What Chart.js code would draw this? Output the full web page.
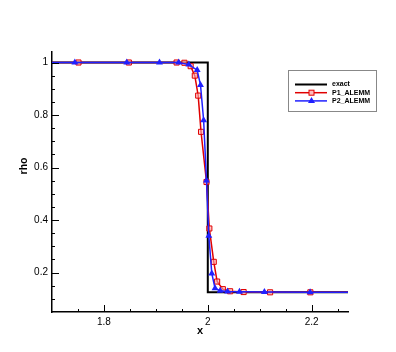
<!DOCTYPE html>
<html>
<head>
<meta charset="utf-8">
<script src="https://cdn.jsdelivr.net/npm/chart.js@4.4.0/dist/chart.umd.min.js"></script>
<style>
    html, body { margin: 0; padding: 0; background: #fff; }
    #wrap { width: 396px; height: 352px; }
</style>
</head>
<body>
<div id="wrap"><canvas id="grafico"></canvas></div>
<script>
// dados
const exactX = [1.7, 2.0, 2.0, 2.27];
const exactRho = [1, 1, 0.125, 0.125];

const p1X = [1.65, 1.751, 1.848, 1.94, 1.955, 1.967, 1.975, 1.9815, 1.987, 1.9975, 2.003, 2.0115, 2.018, 2.029, 2.043, 2.069, 2.12, 2.1975, 2.3];
const p1Rho = [1, 1, 1, 1, 0.999, 0.986, 0.95, 0.874, 0.736, 0.545, 0.368, 0.241, 0.166, 0.137, 0.129, 0.126, 0.125, 0.125, 0.125];

const p2X = [1.65, 1.744, 1.844, 1.907, 1.944, 1.9635, 1.9796, 1.986, 1.992, 1.9975, 2.002, 2.0077, 2.014, 2.024, 2.038, 2.061, 2.109, 2.197, 2.3];
const p2Rho = [1, 1, 1, 1, 1, 0.992, 0.971, 0.914, 0.78, 0.551, 0.34, 0.197, 0.14, 0.131, 0.128, 0.127, 0.126, 0.125, 0.125];

const xTicks = [1.8, 2.0, 2.2];
const xMinor = [1.75, 1.85, 1.9, 1.95, 2.05, 2.1, 2.15, 2.25];
const yTicks = [0.2, 0.4, 0.6, 0.8, 1];
const yMinor = [0.1, 0.15, 0.25, 0.3, 0.35, 0.45, 0.5, 0.55, 0.65, 0.7, 0.75, 0.85, 0.9, 0.95];

const tituloY = "rho";

const pares = (xs, ys) => xs.map((v, i) => ({ x: v, y: ys[i] }));

Chart.defaults.font.family = "'Liberation Sans', Arial, sans-serif";
Chart.defaults.color = "#000";

// marcas dos eixos (para dentro) + titulo do eixo y
const marcas = {
    id: "marcas",
    afterDatasetsDraw(chart) {
        const { ctx, chartArea: a, scales: { x, y } } = chart;
        ctx.save();
        ctx.strokeStyle = "#000";
        ctx.lineWidth = 1;
        const tick = (x1, y1, x2, y2) => { ctx.beginPath(); ctx.moveTo(x1, y1); ctx.lineTo(x2, y2); ctx.stroke(); };
        xTicks.forEach(v => { const p = Math.round(x.getPixelForValue(v)) + 0.5; tick(p, a.bottom, p, a.bottom - 7); });
        xMinor.forEach(v => { const p = Math.round(x.getPixelForValue(v)) + 0.5; tick(p, a.bottom, p, a.bottom - 3); });
        yTicks.forEach(v => { const p = Math.round(y.getPixelForValue(v)) + 0.5; tick(a.left, p, a.left + 7, p); });
        yMinor.forEach(v => { const p = Math.round(y.getPixelForValue(v)) + 0.5; tick(a.left, p, a.left + 3, p); });

        ctx.translate(24, 166);
        ctx.rotate(-Math.PI / 2);
        ctx.font = "bold 10.5px 'Liberation Sans', Arial, sans-serif";
        ctx.fillStyle = "#000";
        ctx.textAlign = "center";
        ctx.textBaseline = "middle";
        ctx.fillText(tituloY, 0, 0);
        ctx.restore();
    }
};

// legenda em caixa, estilo tecplot
const legenda = {
    id: "legenda",
    afterDraw(chart) {
        const { ctx } = chart;
        const bx = 288, by = 70, bw = 88, bh = 41;
        ctx.save();
        ctx.fillStyle = "#fff";
        ctx.fillRect(bx, by, bw, bh);
        ctx.strokeStyle = "#888";
        ctx.lineWidth = 1;
        ctx.strokeRect(bx + 0.5, by + 0.5, bw, bh);
        chart.data.datasets.forEach((ds, i) => {
            const ly = 84.5 + i * 8.2;
            ctx.strokeStyle = ds.borderColor;
            ctx.lineWidth = ds.borderWidth;
            ctx.beginPath();
            ctx.moveTo(295, ly);
            ctx.lineTo(327, ly);
            ctx.stroke();
            const mx = 311.5;
            if (ds.pointStyle === "rect") {
                ctx.lineWidth = 1;
                ctx.fillStyle = "#fbb";
                ctx.fillRect(mx - 2.5, ly - 2.5, 5, 5);
                ctx.strokeRect(mx - 2.5, ly - 2.5, 5, 5);
            } else if (ds.pointStyle === "triangle") {
                ctx.fillStyle = ds.pointBackgroundColor;
                ctx.beginPath();
                ctx.moveTo(mx, ly - 4);
                ctx.lineTo(mx + 3.5, ly + 2);
                ctx.lineTo(mx - 3.5, ly + 2);
                ctx.closePath();
                ctx.fill();
            }
            ctx.fillStyle = "#000";
            ctx.font = "bold 7px 'Liberation Sans', Arial, sans-serif";
            ctx.textBaseline = "middle";
            ctx.fillText(ds.label, 332, ly);
        });
        ctx.restore();
    }
};

new Chart(document.getElementById("grafico"), {
    type: "line",
    data: {
        datasets: [
            {
                label: "exact",
                data: pares(exactX, exactRho),
                borderColor: "#000",
                borderWidth: 2,
                pointRadius: 0,
                order: 3
            },
            {
                label: "P1_ALEMM",
                data: pares(p1X, p1Rho),
                borderColor: "#e00000",
                borderWidth: 1.5,
                pointStyle: "rect",
                pointRadius: 3.6,
                pointBorderWidth: 1,
                pointBorderColor: "#e00000",
                pointBackgroundColor: "rgba(255,170,170,0.6)",
                order: 2
            },
            {
                label: "P2_ALEMM",
                data: pares(p2X, p2Rho),
                borderColor: "#2020ff",
                borderWidth: 1.5,
                pointStyle: "triangle",
                pointRadius: 4,
                pointBorderWidth: 0,
                pointBackgroundColor: "#2020ff",
                order: 1
            }
        ]
    },
    options: {
        responsive: true,
        maintainAspectRatio: false,
        animation: false,
        layout: { padding: { top: 52, right: 48, left: 0, bottom: 0 } },
        plugins: { legend: { display: false }, tooltip: { enabled: false } },
        elements: { line: { tension: 0 } },
        scales: {
            x: {
                type: "linear",
                min: 1.7,
                max: 2.27,
                afterBuildTicks: s => { s.ticks = xTicks.map(v => ({ value: v })); },
                afterFit: s => { s.height = 40; },
                grid: { display: false, drawTicks: false },
                border: { display: true, color: "#000", width: 1.5 },
                ticks: { padding: 4, font: { size: 10 }, maxRotation: 0, callback: v => String(v) },
                title: { display: true, text: "x", font: { size: 11, weight: "bold" }, padding: { bottom: 14 } }
            },
            y: {
                type: "linear",
                min: 0.05,
                max: 1.04,
                afterBuildTicks: s => { s.ticks = yTicks.map(v => ({ value: v })); },
                afterFit: s => { s.width = 52; },
                grid: { display: false, drawTicks: false },
                border: { display: true, color: "#000", width: 1.5 },
                ticks: { padding: 4, font: { size: 10 }, callback: v => String(v) },
                title: { display: false }
            }
        }
    },
    plugins: [marcas, legenda]
});
</script>
</body>
</html>
